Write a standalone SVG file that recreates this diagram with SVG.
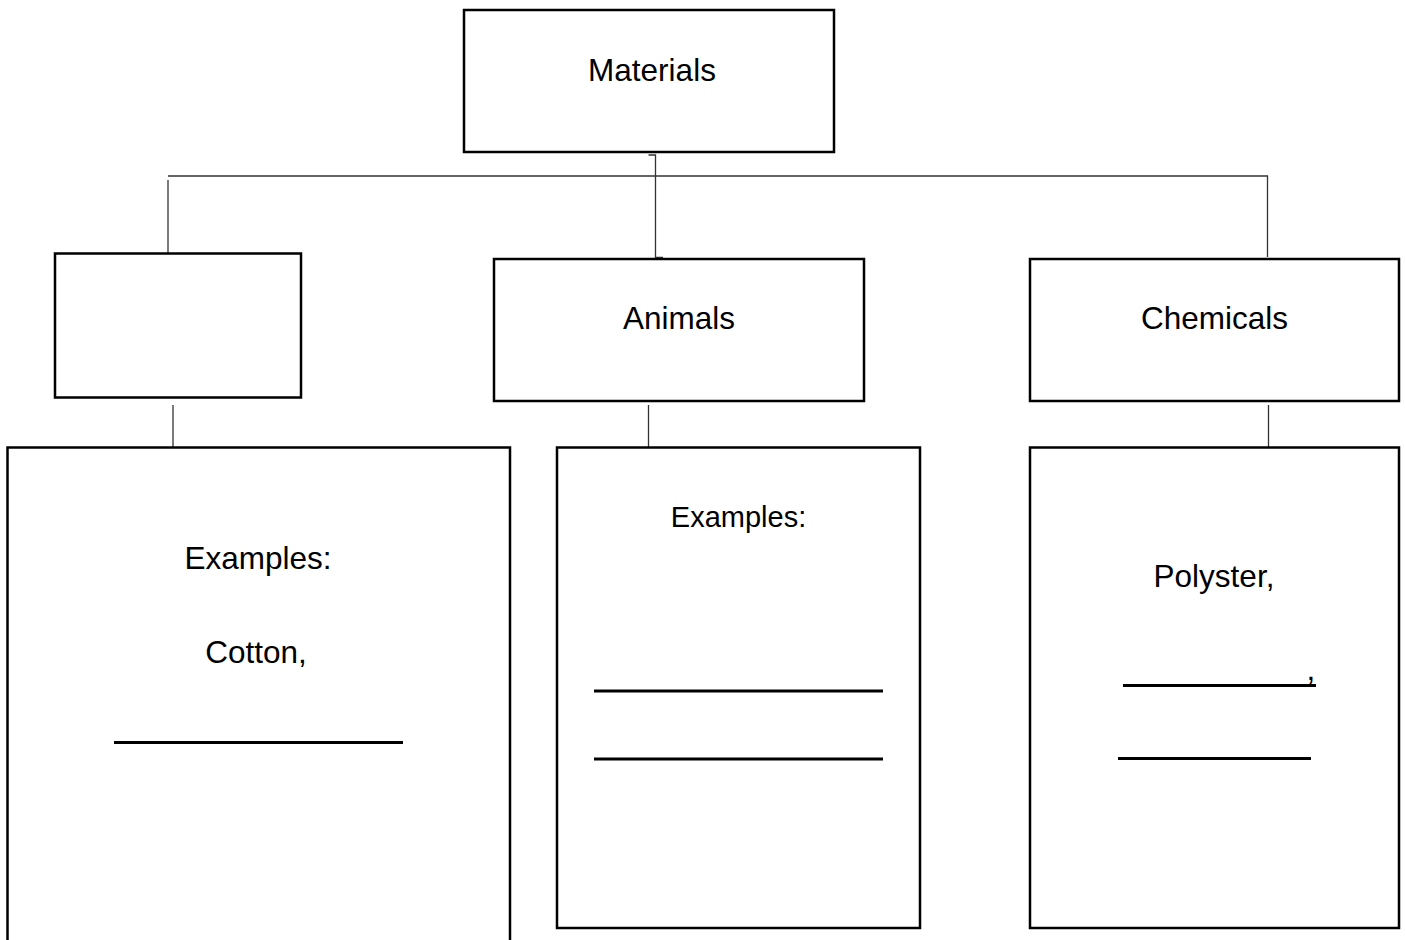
<svg xmlns="http://www.w3.org/2000/svg" width="1405" height="940" viewBox="0 0 1405 940">
<style>
.box{fill:#fff;stroke:#000;stroke-width:2.5}
.conn{fill:none;stroke:#333;stroke-width:1.3}
.blank{stroke:#000;stroke-width:3}
text{font-family:"Liberation Sans",Arial,sans-serif;font-size:31.5px;fill:#000;text-anchor:middle}
</style>
<rect width="1405" height="940" fill="#fff"/>
<g id="connectors">
<path class="conn" d="M648.5 155 H655.5 V257.5 H663"/>
<path class="conn" d="M168 176 H1267.5 V257"/>
<path class="conn" d="M168 180 V259.5"/>
<path class="conn" d="M173 405 V451"/>
<path class="conn" d="M648.5 405 V450"/>
<path class="conn" d="M1268.5 405 V450"/>
</g>
<g id="materials">
<rect class="box" x="464" y="10" width="370" height="142"/>
<text x="652" y="81">Materials</text>
</g>
<g id="blank-category">
<rect class="box" x="55" y="253.5" width="246" height="144"/>
</g>
<g id="animals">
<rect class="box" x="494" y="259" width="370" height="142"/>
<text x="679" y="329">Animals</text>
</g>
<g id="chemicals">
<rect class="box" x="1030" y="259" width="369" height="142"/>
<text x="1214.5" y="329">Chemicals</text>
</g>
<g id="plant-examples">
<rect class="box" x="7.5" y="447.5" width="502.5" height="500"/>
<text x="258" y="569">Examples:</text>
<text x="256" y="663">Cotton,</text>
<line class="blank" x1="114" y1="742.5" x2="403" y2="742.5"/>
</g>
<g id="animal-examples">
<rect class="box" x="557" y="447.5" width="363" height="480.5"/>
<text x="738.5" y="527" style="font-size:29px">Examples:</text>
<line class="blank" x1="594" y1="691" x2="883" y2="691"/>
<line class="blank" x1="594" y1="759" x2="883" y2="759"/>
</g>
<g id="chemical-examples">
<rect class="box" x="1030" y="447.5" width="369" height="480.5"/>
<text x="1214" y="587">Polyster,</text>
<line class="blank" x1="1123" y1="685.5" x2="1316" y2="685.5"/>
<text x="1311" y="680">,</text>
<line class="blank" x1="1118" y1="758.5" x2="1311" y2="758.5"/>
</g>
</svg>
